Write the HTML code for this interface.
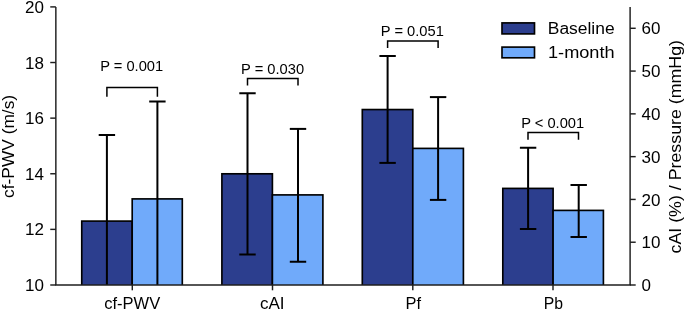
<!DOCTYPE html><html><head><meta charset="utf-8"><style>html,body{margin:0;padding:0;background:#fff;}svg{display:block;will-change:transform;}text{font-family:"Liberation Sans", sans-serif;fill:#000;}</style></head><body>
<svg width="685" height="311" viewBox="0 0 685 311">
<rect width="685" height="311" fill="#fff"/>
<clipPath id="ax"><rect x="55.85" y="0" width="574.25" height="285.0"/></clipPath>
<g clip-path="url(#ax)">
<rect x="81.75" y="221.1" width="50.45" height="66.90" fill="#2c3e8e" stroke="#000" stroke-width="1.65"/>
<rect x="132.2" y="198.9" width="50.10" height="89.10" fill="#70aafa" stroke="#000" stroke-width="1.65"/>
<rect x="221.9" y="173.8" width="50.50" height="114.20" fill="#2c3e8e" stroke="#000" stroke-width="1.65"/>
<rect x="272.4" y="194.9" width="50.50" height="93.10" fill="#70aafa" stroke="#000" stroke-width="1.65"/>
<rect x="362.3" y="109.55" width="50.50" height="178.45" fill="#2c3e8e" stroke="#000" stroke-width="1.65"/>
<rect x="412.8" y="148.4" width="50.60" height="139.60" fill="#70aafa" stroke="#000" stroke-width="1.65"/>
<rect x="502.8" y="188.4" width="50.30" height="99.60" fill="#2c3e8e" stroke="#000" stroke-width="1.65"/>
<rect x="553.1" y="210.4" width="50.30" height="77.60" fill="#70aafa" stroke="#000" stroke-width="1.65"/>
<line x1="106.9" y1="135.0" x2="106.9" y2="307.2" stroke="#000" stroke-width="2"/>
<line x1="98.7" y1="135.0" x2="115.10000000000001" y2="135.0" stroke="#000" stroke-width="2"/>
<line x1="157.4" y1="101.5" x2="157.4" y2="296.3" stroke="#000" stroke-width="2"/>
<line x1="149.20000000000002" y1="101.5" x2="165.6" y2="101.5" stroke="#000" stroke-width="2"/>
<line x1="247.5" y1="93.2" x2="247.5" y2="254.5" stroke="#000" stroke-width="2"/>
<line x1="239.3" y1="93.2" x2="255.7" y2="93.2" stroke="#000" stroke-width="2"/>
<line x1="239.3" y1="254.5" x2="255.7" y2="254.5" stroke="#000" stroke-width="2"/>
<line x1="298.0" y1="128.9" x2="298.0" y2="261.75" stroke="#000" stroke-width="2"/>
<line x1="289.8" y1="128.9" x2="306.2" y2="128.9" stroke="#000" stroke-width="2"/>
<line x1="289.8" y1="261.75" x2="306.2" y2="261.75" stroke="#000" stroke-width="2"/>
<line x1="387.6" y1="56.0" x2="387.6" y2="162.9" stroke="#000" stroke-width="2"/>
<line x1="379.40000000000003" y1="56.0" x2="395.8" y2="56.0" stroke="#000" stroke-width="2"/>
<line x1="379.40000000000003" y1="162.9" x2="395.8" y2="162.9" stroke="#000" stroke-width="2"/>
<line x1="438.1" y1="97.1" x2="438.1" y2="199.9" stroke="#000" stroke-width="2"/>
<line x1="429.90000000000003" y1="97.1" x2="446.3" y2="97.1" stroke="#000" stroke-width="2"/>
<line x1="429.90000000000003" y1="199.9" x2="446.3" y2="199.9" stroke="#000" stroke-width="2"/>
<line x1="528.1" y1="147.75" x2="528.1" y2="229.0" stroke="#000" stroke-width="2"/>
<line x1="519.9" y1="147.75" x2="536.3000000000001" y2="147.75" stroke="#000" stroke-width="2"/>
<line x1="519.9" y1="229.0" x2="536.3000000000001" y2="229.0" stroke="#000" stroke-width="2"/>
<line x1="578.7" y1="185.0" x2="578.7" y2="237.0" stroke="#000" stroke-width="2"/>
<line x1="570.5" y1="185.0" x2="586.9000000000001" y2="185.0" stroke="#000" stroke-width="2"/>
<line x1="570.5" y1="237.0" x2="586.9000000000001" y2="237.0" stroke="#000" stroke-width="2"/>
</g>
<polyline points="106.9,96.7 106.9,87.6 157.4,87.6 157.4,96.7" fill="none" stroke="#000" stroke-width="1.5"/>
<text x="131.7" y="71.0" font-size="13.8" text-anchor="middle" textLength="63" lengthAdjust="spacingAndGlyphs">P = 0.001</text>
<polyline points="247.5,85.6 247.5,78.5 298.0,78.5 298.0,85.6" fill="none" stroke="#000" stroke-width="1.5"/>
<text x="272.6" y="73.7" font-size="13.8" text-anchor="middle" textLength="63" lengthAdjust="spacingAndGlyphs">P = 0.030</text>
<polyline points="387.6,47.9 387.6,41.1 438.1,41.1 438.1,47.9" fill="none" stroke="#000" stroke-width="1.5"/>
<text x="412.3" y="36.0" font-size="13.8" text-anchor="middle" textLength="63" lengthAdjust="spacingAndGlyphs">P = 0.051</text>
<polyline points="528.0,139.7 528.0,132.5 578.5,132.5 578.5,139.7" fill="none" stroke="#000" stroke-width="1.5"/>
<text x="552.7" y="128.0" font-size="13.8" text-anchor="middle" textLength="63" lengthAdjust="spacingAndGlyphs">P &lt; 0.001</text>
<line x1="55.85" y1="6.9" x2="55.85" y2="285.0" stroke="#1e1e1e" stroke-width="1.45"/>
<line x1="630.1" y1="6.9" x2="630.1" y2="285.0" stroke="#1e1e1e" stroke-width="1.45"/>
<line x1="55.125" y1="285.0" x2="630.825" y2="285.0" stroke="#1e1e1e" stroke-width="1.45"/>
<line x1="50.25" y1="285.00" x2="55.85" y2="285.00" stroke="#1e1e1e" stroke-width="1.45"/>
<text x="44.0" y="291.10" font-size="17" text-anchor="end">10</text>
<line x1="50.25" y1="229.38" x2="55.85" y2="229.38" stroke="#1e1e1e" stroke-width="1.45"/>
<text x="44.0" y="235.48" font-size="17" text-anchor="end">12</text>
<line x1="50.25" y1="173.76" x2="55.85" y2="173.76" stroke="#1e1e1e" stroke-width="1.45"/>
<text x="44.0" y="179.86" font-size="17" text-anchor="end">14</text>
<line x1="50.25" y1="118.14" x2="55.85" y2="118.14" stroke="#1e1e1e" stroke-width="1.45"/>
<text x="44.0" y="124.24" font-size="17" text-anchor="end">16</text>
<line x1="50.25" y1="62.52" x2="55.85" y2="62.52" stroke="#1e1e1e" stroke-width="1.45"/>
<text x="44.0" y="68.62" font-size="17" text-anchor="end">18</text>
<line x1="50.25" y1="6.90" x2="55.85" y2="6.90" stroke="#1e1e1e" stroke-width="1.45"/>
<text x="44.0" y="13.00" font-size="17" text-anchor="end">20</text>
<line x1="630.1" y1="285.00" x2="635.7" y2="285.00" stroke="#1e1e1e" stroke-width="1.45"/>
<text x="641.5" y="291.10" font-size="17" text-anchor="start">0</text>
<line x1="630.1" y1="242.22" x2="635.7" y2="242.22" stroke="#1e1e1e" stroke-width="1.45"/>
<text x="641.5" y="248.32" font-size="17" text-anchor="start">10</text>
<line x1="630.1" y1="199.43" x2="635.7" y2="199.43" stroke="#1e1e1e" stroke-width="1.45"/>
<text x="641.5" y="205.53" font-size="17" text-anchor="start">20</text>
<line x1="630.1" y1="156.65" x2="635.7" y2="156.65" stroke="#1e1e1e" stroke-width="1.45"/>
<text x="641.5" y="162.75" font-size="17" text-anchor="start">30</text>
<line x1="630.1" y1="113.86" x2="635.7" y2="113.86" stroke="#1e1e1e" stroke-width="1.45"/>
<text x="641.5" y="119.96" font-size="17" text-anchor="start">40</text>
<line x1="630.1" y1="71.08" x2="635.7" y2="71.08" stroke="#1e1e1e" stroke-width="1.45"/>
<text x="641.5" y="77.18" font-size="17" text-anchor="start">50</text>
<line x1="630.1" y1="28.29" x2="635.7" y2="28.29" stroke="#1e1e1e" stroke-width="1.45"/>
<text x="641.5" y="34.39" font-size="17" text-anchor="start">60</text>
<line x1="132.3" y1="285.0" x2="132.3" y2="290.3" stroke="#1e1e1e" stroke-width="1.45"/>
<text x="132.2" y="309.2" font-size="17" text-anchor="middle" textLength="56.0" lengthAdjust="spacingAndGlyphs">cf-PWV</text>
<line x1="272.5" y1="285.0" x2="272.5" y2="290.3" stroke="#1e1e1e" stroke-width="1.45"/>
<text x="272.3" y="309.2" font-size="17" text-anchor="middle" textLength="24.6" lengthAdjust="spacingAndGlyphs">cAI</text>
<line x1="412.8" y1="285.0" x2="412.8" y2="290.3" stroke="#1e1e1e" stroke-width="1.45"/>
<text x="413.3" y="309.2" font-size="17" text-anchor="middle" textLength="15.5" lengthAdjust="spacingAndGlyphs">Pf</text>
<line x1="553.0" y1="285.0" x2="553.0" y2="290.3" stroke="#1e1e1e" stroke-width="1.45"/>
<text x="553.4" y="309.2" font-size="17" text-anchor="middle" textLength="19.3" lengthAdjust="spacingAndGlyphs">Pb</text>
<text transform="translate(13.9,146.4) rotate(-90)" font-size="17" text-anchor="middle" textLength="103" lengthAdjust="spacingAndGlyphs">cf-PWV (m/s)</text>
<text transform="translate(680.5,146.7) rotate(-90)" font-size="17" text-anchor="middle" textLength="213.5" lengthAdjust="spacingAndGlyphs">cAI (%) / Pressure (mmHg)</text>
<rect x="502.0" y="22.9" width="32.5" height="11.0" fill="#2c3e8e" stroke="#000" stroke-width="1.65"/>
<rect x="502.0" y="47.1" width="32.5" height="10.7" fill="#70aafa" stroke="#000" stroke-width="1.65"/>
<text x="547.8" y="33.7" font-size="16" textLength="66.8" lengthAdjust="spacingAndGlyphs">Baseline</text>
<text x="548.0" y="57.8" font-size="16" textLength="66.6" lengthAdjust="spacingAndGlyphs">1-month</text>
</svg></body></html>
